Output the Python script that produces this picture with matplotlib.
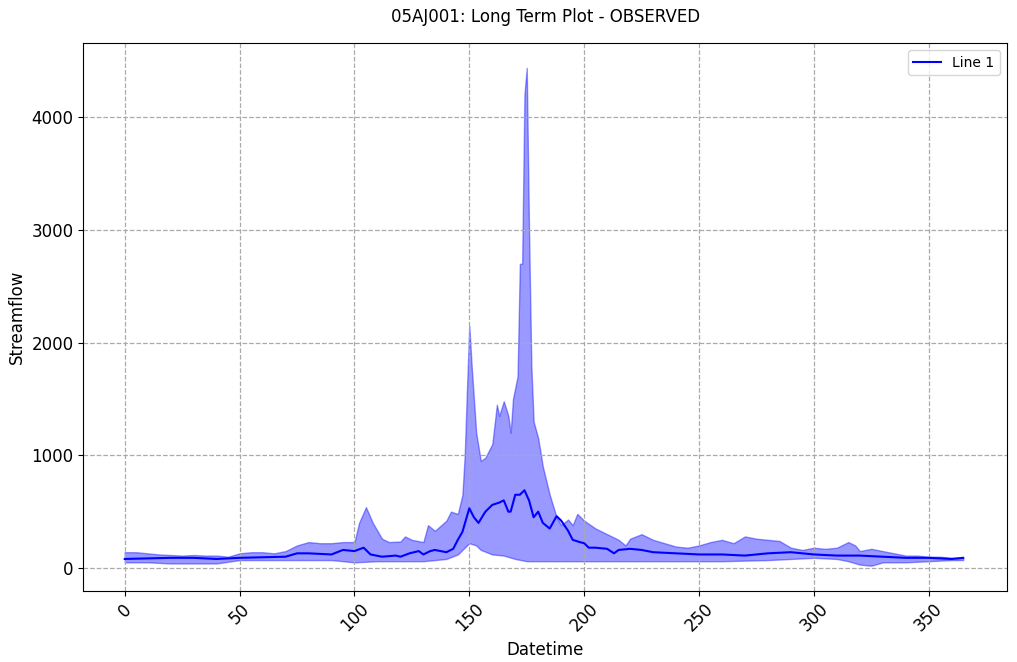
import numpy as np
import matplotlib
matplotlib.use("Agg")
import matplotlib.pyplot as plt

up_x = [0,5,10,15,20,25,30,35,40,45,50,55,60,65,70,75,80,85,90,95,100,102,105,108,112,115,120,122,125,130,132,135,140,142,145,147,148,149,150,151,153,155,157,160,162,163,165,167,168,169,171,172,173,174,175,176,177,178,180,182,185,188,190,193,195,197,200,205,210,215,218,220,225,230,235,240,245,250,255,260,265,270,275,280,285,290,295,300,305,310,315,318,320,325,330,335,340,345,350,355,360,365]
up_y = [140,140,130,120,115,110,115,110,110,100,130,140,140,130,150,200,230,220,220,230,230,400,540,400,260,230,235,280,250,230,380,330,420,500,480,650,1000,1600,2150,1800,1200,950,980,1100,1450,1350,1480,1350,1200,1500,1700,2700,2700,4200,4440,3000,1800,1300,1150,900,650,450,380,430,380,480,420,350,300,250,200,260,300,250,220,190,180,200,230,250,220,280,260,250,240,180,160,180,170,180,230,200,150,170,150,130,110,110,100,100,90,90]

lo_x = [0,10,20,30,40,50,60,70,90,100,110,120,130,140,145,148,150,153,155,160,165,170,175,180,200,220,240,260,280,290,300,310,315,320,325,330,340,350,360,365]
lo_y = [50,50,40,40,40,70,70,70,70,50,60,60,60,80,120,180,220,200,160,120,110,80,60,60,60,60,60,60,70,80,90,80,60,30,20,50,50,60,70,70]

mean_x = [0,10,20,30,40,50,60,70,75,80,90,95,100,104,107,112,118,120,124,128,130,133,135,140,143,145,147,150,152,154,157,160,163,165,167,168,170,172,174,176,178,180,182,185,188,190,193,195,198,200,202,205,210,213,215,220,225,230,240,250,260,270,280,290,300,310,320,330,340,350,360,365]
mean_y = [80,85,90,90,80,90,95,100,130,130,120,160,150,180,120,100,110,100,130,150,120,150,160,140,170,250,320,530,450,400,500,560,580,600,500,500,650,650,690,600,450,500,400,350,460,420,330,250,230,220,180,180,170,130,160,170,160,140,130,120,120,110,130,140,120,110,110,100,90,90,80,90]

fig, ax = plt.subplots(figsize=(10.17, 6.62), dpi=100)
fig.subplots_adjust(left=0.082, right=0.99, top=0.935, bottom=0.108)

xs = sorted(set(up_x) | set(lo_x))
ax.fill_between(xs, np.interp(xs, lo_x, lo_y), np.interp(xs, up_x, up_y),
                color='blue', alpha=0.4, linewidth=1)
ax.plot(mean_x, mean_y, color='blue', linewidth=1.5, label='Line 1')

ax.set_xlim(-18, 384)
ax.set_ylim(-200, 4660)
ax.set_xticks([0,50,100,150,200,250,300,350])
ax.set_yticks([0,1000,2000,3000,4000])
ax.tick_params(axis='x', labelrotation=45, labelsize=12)
ax.tick_params(axis='y', labelsize=12)
ax.grid(True, linestyle='--', color='#aaaaaa', linewidth=0.9)
ax.set_xlabel('Datetime', fontsize=12)
ax.set_ylabel('Streamflow', fontsize=12)
ax.set_title('05AJ001: Long Term Plot - OBSERVED', fontsize=12, pad=15)
ax.legend(loc='upper right')
fig.savefig('out.png', dpi=100)
